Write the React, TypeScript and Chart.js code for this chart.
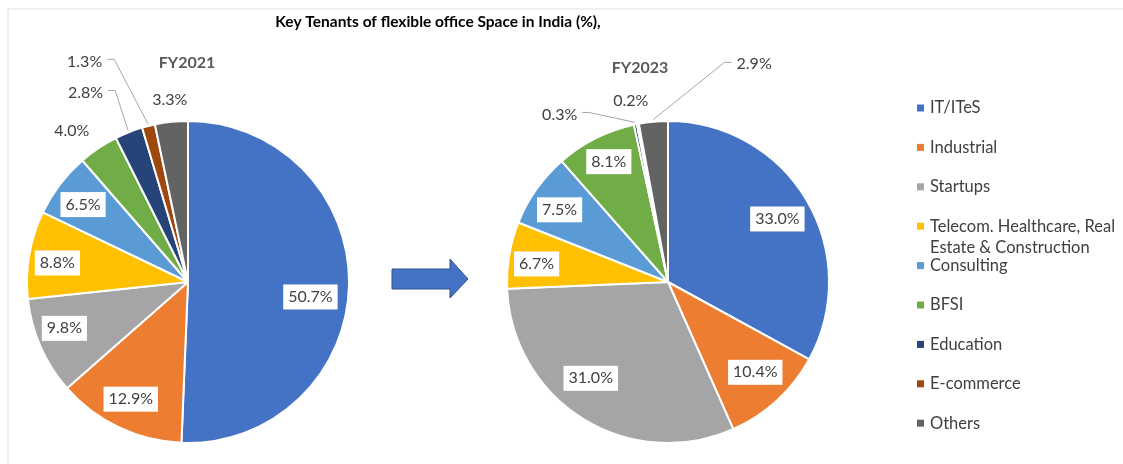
import React, { useEffect, useRef } from "react";
import { Chart, registerables } from "chart.js";

Chart.register(...registerables);

// ---------- data ----------
const categories = [
  "IT/ITeS",
  "Industrial",
  "Startups",
  "Telecom. Healthcare, Real Estate & Construction",
  "Consulting",
  "BFSI",
  "Education",
  "E-commerce",
  "Others",
];
const values2021 = [50.7, 12.9, 9.8, 8.8, 6.5, 4.0, 2.8, 1.3, 3.3];
const values2023 = [33.0, 10.4, 31.0, 6.7, 7.5, 8.1, 0.3, 0.2, 2.9];
const colors = ["#4472C4", "#ED7D31", "#A5A5A5", "#FFC000", "#5B9BD5", "#70AD47", "#264478", "#9E480E", "#636363"];
const mainTitle = "Key Tenants of flexible office Space in India (%),";
const title2021 = "FY2021";
const title2023 = "FY2023";

// ---------- label placement (radial factor k, angular shift da in degrees) ----------
const layout2021 = [
  { k: 0.766, da: 5.8 },
  { k: 0.81, da: 0.5 },
  { k: 0.82, da: 3.1 },
  { k: 0.82, da: -1.5 },
  { k: 0.81, da: -0.9 },
  { k: 1.186, da: -3.7 },
  { k: 1.338, da: -6.8, leader: true },
  { k: 1.513, da: -10.9, leader: true },
  { k: 1.134, da: 0.2 },
];
const layout2023 = [
  { k: 0.784, da: 0.7 },
  { k: 0.78, da: -1.4 },
  { k: 0.767, da: 6.9 },
  { k: 0.824, da: -1.8 },
  { k: 0.809, da: -1.5 },
  { k: 0.833, da: 0.6 },
  { k: 1.239, da: -21.2, leader: true },
  { k: 1.151, da: -0.8 },
  { k: 1.454, da: 26.8, leader: true },
];

const FONT = "Lato, 'Open Sans', sans-serif";
const W = 1123;
const H = 464;

type Cfg = {
  layout: { k: number; da: number; leader?: boolean }[];
  subtitle: string;
  subDx: number;
  subDy: number;
  mainTitle?: boolean;
  legend?: boolean;
  arrow?: boolean;
};

function wrapText(ctx: CanvasRenderingContext2D, text: string, maxW: number): string[] {
  const words = text.split(" ");
  const lines: string[] = [];
  let cur = "";
  for (const w of words) {
    const t = cur ? cur + " " + w : w;
    if (ctx.measureText(t).width > maxW && cur) {
      lines.push(cur);
      cur = w;
    } else cur = t;
  }
  if (cur) lines.push(cur);
  return lines;
}

function decorPlugin(cfg: Cfg) {
  return {
    id: "pieDecor",
    afterDatasetsDraw(chart: any) {
      const ctx: CanvasRenderingContext2D = chart.ctx;
      const meta = chart.getDatasetMeta(0);
      const ds = chart.data.datasets[0];
      ctx.save();
      ctx.font = `16px ${FONT}`;
      ctx.textAlign = "center";
      ctx.textBaseline = "middle";
      let cx = 0;
      let cy = 0;
      meta.data.forEach((arc: any, i: number) => {
        const p = arc.getProps(["x", "y", "startAngle", "endAngle", "outerRadius"], true);
        cx = p.x;
        cy = p.y;
        const lay = cfg.layout[i];
        const mid = (p.startAngle + p.endAngle) / 2;
        const a = mid + (lay.da * Math.PI) / 180;
        const tx = p.x + Math.cos(a) * p.outerRadius * lay.k;
        const ty = p.y + Math.sin(a) * p.outerRadius * lay.k;
        const text = Number(ds.data[i]).toFixed(1) + "%";
        const w = ctx.measureText(text).width;
        if (lay.k < 1) {
          ctx.fillStyle = "#FFFFFF";
          ctx.fillRect(tx - w / 2 - 5, ty - 12.5, w + 10, 25);
        }
        if (lay.leader) {
          const ex = p.x + Math.cos(mid) * (p.outerRadius + 2);
          const ey = p.y + Math.sin(mid) * (p.outerRadius + 2);
          const left = tx < p.x;
          const sx = left ? tx + w / 2 + 5 : tx - w / 2 - 5;
          const hx = sx + (left ? 7 : -7);
          ctx.strokeStyle = "#A6A6A6";
          ctx.lineWidth = 1;
          ctx.beginPath();
          ctx.moveTo(sx, ty - 2);
          ctx.lineTo(hx, ty - 2);
          ctx.lineTo(ex, ey);
          ctx.stroke();
        }
        ctx.fillStyle = "#404040";
        ctx.fillText(text, tx, ty);
      });

      // sub-chart title
      ctx.font = `bold 16px ${FONT}`;
      ctx.fillStyle = "#595959";
      ctx.fillText(cfg.subtitle, cx + cfg.subDx, cy + cfg.subDy);

      if (cfg.mainTitle) {
        ctx.font = `bold 15.5px ${FONT}`;
        ctx.fillStyle = "#000000";
        ctx.fillText(mainTitle, 438, 22);
      }

      if (cfg.arrow) {
        ctx.beginPath();
        ctx.moveTo(392, 269);
        ctx.lineTo(450, 269);
        ctx.lineTo(450, 259);
        ctx.lineTo(468, 279);
        ctx.lineTo(450, 298);
        ctx.lineTo(450, 289);
        ctx.lineTo(392, 289);
        ctx.closePath();
        ctx.fillStyle = "#4472C4";
        ctx.fill();
        ctx.strokeStyle = "#2F528F";
        ctx.lineWidth = 1;
        ctx.stroke();
      }

      if (cfg.legend) {
        ctx.font = `16.5px ${FONT}`;
        ctx.textAlign = "left";
        const labels: string[] = chart.data.labels;
        const bg: string[] = ds.backgroundColor;
        labels.forEach((lab, i) => {
          const y = 108 + i * 39.4;
          ctx.fillStyle = bg[i];
          ctx.fillRect(917, y - 3.5, 7, 7);
          ctx.fillStyle = "#404040";
          const lines = wrapText(ctx, lab, 200);
          lines.forEach((ln, j) => ctx.fillText(ln, 930, y + j * 21));
        });
      }
      ctx.restore();
    },
  };
}

function PieCanvas(props: { values: number[]; padding: any; cfg: Cfg }) {
  const ref = useRef<HTMLCanvasElement | null>(null);
  useEffect(() => {
    if (!ref.current) return;
    const chart = new Chart(ref.current, {
      type: "pie",
      data: {
        labels: categories,
        datasets: [
          {
            data: props.values,
            backgroundColor: colors,
            borderColor: "#FFFFFF",
            borderWidth: 2,
            radius: 161,
          } as any,
        ],
      },
      options: {
        responsive: false,
        animation: false,
        events: [],
        layout: { padding: props.padding },
        plugins: {
          legend: { display: false },
          tooltip: { enabled: false },
          title: { display: false },
        },
      },
      plugins: [decorPlugin(props.cfg) as any],
    });
    return () => chart.destroy();
  }, []);
  return (
    <canvas
      ref={ref}
      width={W}
      height={H}
      style={{ position: "absolute", left: 0, top: 0, width: W, height: H }}
    />
  );
}

export default function App() {
  return (
    <div
      style={{
        position: "absolute",
        left: 0,
        top: 0,
        width: W,
        height: H,
        overflow: "hidden",
        background: "#FFFFFF",
      }}
    >
      <div
        style={{
          position: "absolute",
          left: 7,
          top: 8,
          right: -4,
          bottom: -4,
          borderTop: "2px solid #EFEFEF",
          borderLeft: "2px solid #EFEFEF",
        }}
      />
      <PieCanvas
        values={values2021}
        padding={{ left: 20, right: 767, top: 120, bottom: 20 }}
        cfg={{ layout: layout2021, subtitle: title2021, subDx: -1, subDy: -219, mainTitle: true }}
      />
      <PieCanvas
        values={values2023}
        padding={{ left: 500, right: 287, top: 120, bottom: 20 }}
        cfg={{ layout: layout2023, subtitle: title2023, subDx: -28, subDy: -214, legend: true, arrow: true }}
      />
    </div>
  );
}
